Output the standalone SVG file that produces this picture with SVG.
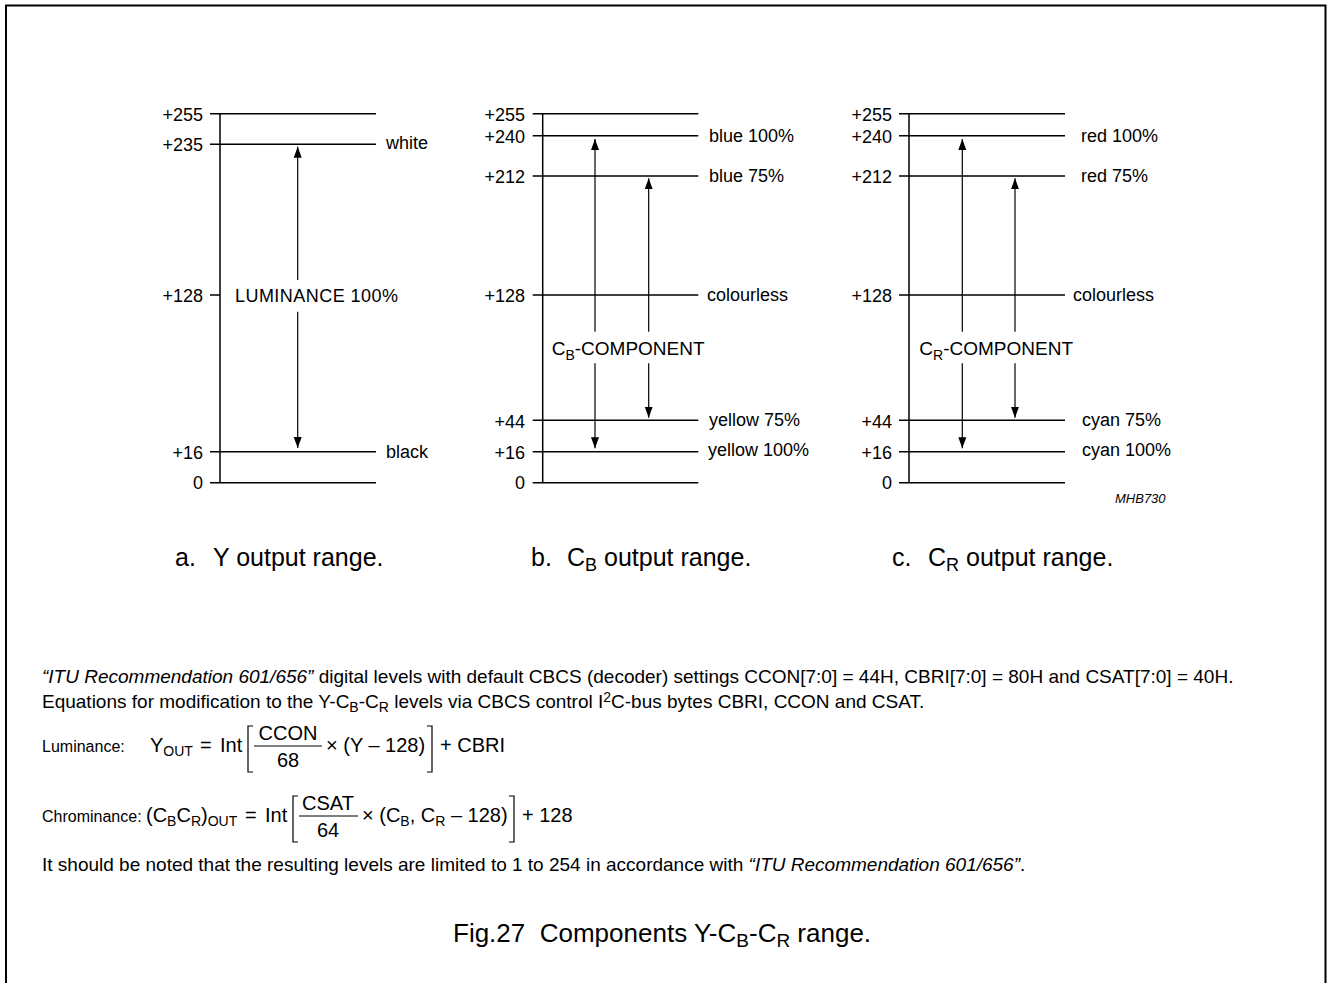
<svg xmlns="http://www.w3.org/2000/svg" width="1327" height="983" viewBox="0 0 1327 983">
<style>
text{font-family:"Liberation Sans",Arial,sans-serif;fill:#000}
.lbl{font-size:18px}
.tick{font-size:18px;text-anchor:end}
.cap{font-size:25px}
.body{font-size:19px}
.eql{font-size:16px}
.eq{font-size:20px}
.ln{stroke:#000;stroke-width:1.5;fill:none}
.br{stroke:#000;stroke-width:1.2;fill:none}
.ar{stroke:#000;stroke-width:1.2;fill:none}
</style>
<defs>
<marker id="ah" markerUnits="userSpaceOnUse" markerWidth="12" markerHeight="10" refX="11" refY="0" orient="auto" viewBox="0 -5 12 10"><path d="M11,0 L0,-4 L0,4 Z" fill="#000"/></marker>
</defs>
<rect width="1327" height="983" fill="#fff"/>
<path d="M6,995 V5.5 H1325.5 V995" fill="none" stroke="#000" stroke-width="2"/>

<g id="chart-y">
<path class="ln" d="M220,113.7 V482.7 M210,113.7 H376 M210,144.3 H376 M210,295 H220 M210,451.7 H376 M210,482.7 H376"/>
<text class="tick" x="203" y="120.5">+255</text>
<text class="tick" x="203" y="151">+235</text>
<text class="tick" x="203" y="301.5">+128</text>
<text class="tick" x="203" y="458.5">+16</text>
<text class="tick" x="203" y="489">0</text>
<text class="lbl" x="386" y="149">white</text>
<text class="lbl" x="386" y="458">black</text>
<text class="lbl" x="235" y="302" textLength="163">LUMINANCE 100%</text>
</g>

<g id="chart-cb">
<path class="ln" d="M542.7,113.7 V482.7 M532.7,113.7 H698.3 M532.7,135.7 H698.3 M532.7,176 H698.3 M532.7,295 H698.3 M532.7,420.3 H698.3 M532.7,451.7 H698.3 M532.7,482.7 H698.3"/>
<text class="tick" x="525" y="120.5">+255</text>
<text class="tick" x="525" y="143">+240</text>
<text class="tick" x="525" y="183">+212</text>
<text class="tick" x="525" y="302">+128</text>
<text class="tick" x="525" y="428">+44</text>
<text class="tick" x="525" y="459">+16</text>
<text class="tick" x="525" y="489">0</text>
<text class="lbl" x="709" y="141.5">blue 100%</text>
<text class="lbl" x="709" y="182">blue 75%</text>
<text class="lbl" x="707" y="301">colourless</text>
<text class="lbl" x="709" y="426">yellow 75%</text>
<text class="lbl" x="708" y="456">yellow 100%</text>
<text x="551.7" y="355" font-size="19">C<tspan font-size="14" dy="5">B</tspan><tspan dy="-5">-COMPONENT</tspan></text>
</g>

<g id="chart-cr">
<path class="ln" d="M909,113.7 V482.7 M899,113.7 H1065 M899,135.7 H1065 M899,176 H1065 M899,295 H1065 M899,420.3 H1065 M899,451.7 H1065 M899,482.7 H1065"/>
<text class="tick" x="892" y="120.5">+255</text>
<text class="tick" x="892" y="143">+240</text>
<text class="tick" x="892" y="183">+212</text>
<text class="tick" x="892" y="302">+128</text>
<text class="tick" x="892" y="428">+44</text>
<text class="tick" x="892" y="459">+16</text>
<text class="tick" x="892" y="489">0</text>
<text class="lbl" x="1081" y="141.5">red 100%</text>
<text class="lbl" x="1081" y="182">red 75%</text>
<text class="lbl" x="1073" y="301">colourless</text>
<text class="lbl" x="1082" y="426">cyan 75%</text>
<text class="lbl" x="1082" y="456">cyan 100%</text>
<text x="919.3" y="355" font-size="19">C<tspan font-size="14" dy="5">R</tspan><tspan dy="-5">-COMPONENT</tspan></text>
<text x="1115" y="503" font-size="13" font-style="italic">MHB730</text>
</g>

<g id="connectors">
<path class="ar" d="M297.7,280 V146.7" marker-end="url(#ah)"/>
<path class="ar" d="M297.7,311.7 V448" marker-end="url(#ah)"/>
<path class="ar" d="M595,331.7 V139" marker-end="url(#ah)"/>
<path class="ar" d="M595,363.3 V448.3" marker-end="url(#ah)"/>
<path class="ar" d="M648.7,331.7 V178.3" marker-end="url(#ah)"/>
<path class="ar" d="M648.7,363.3 V417.7" marker-end="url(#ah)"/>
<path class="ar" d="M962.3,331.7 V139" marker-end="url(#ah)"/>
<path class="ar" d="M962.3,363.3 V448.3" marker-end="url(#ah)"/>
<path class="ar" d="M1015,331.7 V178.3" marker-end="url(#ah)"/>
<path class="ar" d="M1015,363.3 V417.7" marker-end="url(#ah)"/>
</g>

<g id="captions">
<text class="cap" x="175" y="566">a.</text>
<text class="cap" x="213" y="566">Y output range.</text>
<text class="cap" x="531" y="566">b.</text>
<text class="cap" x="567" y="566">C<tspan font-size="18" dy="5">B</tspan><tspan dy="-5"> output range.</tspan></text>
<text class="cap" x="892" y="566">c.</text>
<text class="cap" x="928" y="566">C<tspan font-size="18" dy="5">R</tspan><tspan dy="-5"> output range.</tspan></text>
</g>

<g id="notes">
<text class="body" x="42" y="683"><tspan font-style="italic">“ITU Recommendation 601/656”</tspan> digital levels with default CBCS (decoder) settings CCON[7:0] = 44H, CBRI[7:0] = 80H and CSAT[7:0] = 40H.</text>
<text class="body" x="42" y="708">Equations for modification to the Y-C<tspan font-size="14" dy="4">B</tspan><tspan dy="-4">-C</tspan><tspan font-size="14" dy="4">R</tspan><tspan dy="-4"> levels via CBCS control I</tspan><tspan font-size="14" dy="-6">2</tspan><tspan dy="6">C-bus bytes CBRI, CCON and CSAT.</tspan></text>

<text class="eql" x="42" y="752">Luminance:</text>
<text class="eq" x="150" y="752">Y<tspan font-size="14" dy="4">OUT</tspan></text>
<text class="eq" x="200" y="752">=</text>
<text class="eq" x="220" y="752">Int</text>
<path class="br" d="M253,726 H248 V772 H253 M427,726 H432 V772 H427"/>
<text class="eq" x="288" y="740" text-anchor="middle">CCON</text>
<path class="br" d="M254,746 H322"/>
<text class="eq" x="288" y="767" text-anchor="middle">68</text>
<text class="eq" x="326" y="752">× (Y – 128)</text>
<text class="eq" x="440" y="752">+ CBRI</text>

<text class="eql" x="42" y="822">Chrominance:</text>
<text class="eq" x="146" y="822">(C<tspan font-size="14" dy="4">B</tspan><tspan dy="-4">C</tspan><tspan font-size="14" dy="4">R</tspan><tspan dy="-4">)</tspan><tspan font-size="14" dy="4">OUT</tspan></text>
<text class="eq" x="245" y="822">=</text>
<text class="eq" x="265" y="822">Int</text>
<path class="br" d="M298,796 H293 V842 H298 M509,796 H514 V842 H509"/>
<text class="eq" x="328" y="810" text-anchor="middle">CSAT</text>
<path class="br" d="M299,816 H358"/>
<text class="eq" x="328" y="837" text-anchor="middle">64</text>
<text class="eq" x="362" y="822">× (C<tspan font-size="14" dy="4">B</tspan><tspan dy="-4">, C</tspan><tspan font-size="14" dy="4">R</tspan><tspan dy="-4"> – 128)</tspan></text>
<text class="eq" x="522" y="822">+ 128</text>

<text class="body" x="42" y="871">It should be noted that the resulting levels are limited to 1 to 254 in accordance with <tspan font-style="italic">“ITU Recommendation 601/656”</tspan>.</text>

<text x="453" y="942" font-size="26" xml:space="preserve">Fig.27  Components Y-C<tspan font-size="19" dy="5">B</tspan><tspan dy="-5">-C</tspan><tspan font-size="19" dy="5">R</tspan><tspan dy="-5"> range.</tspan></text>
</g>
</svg>
